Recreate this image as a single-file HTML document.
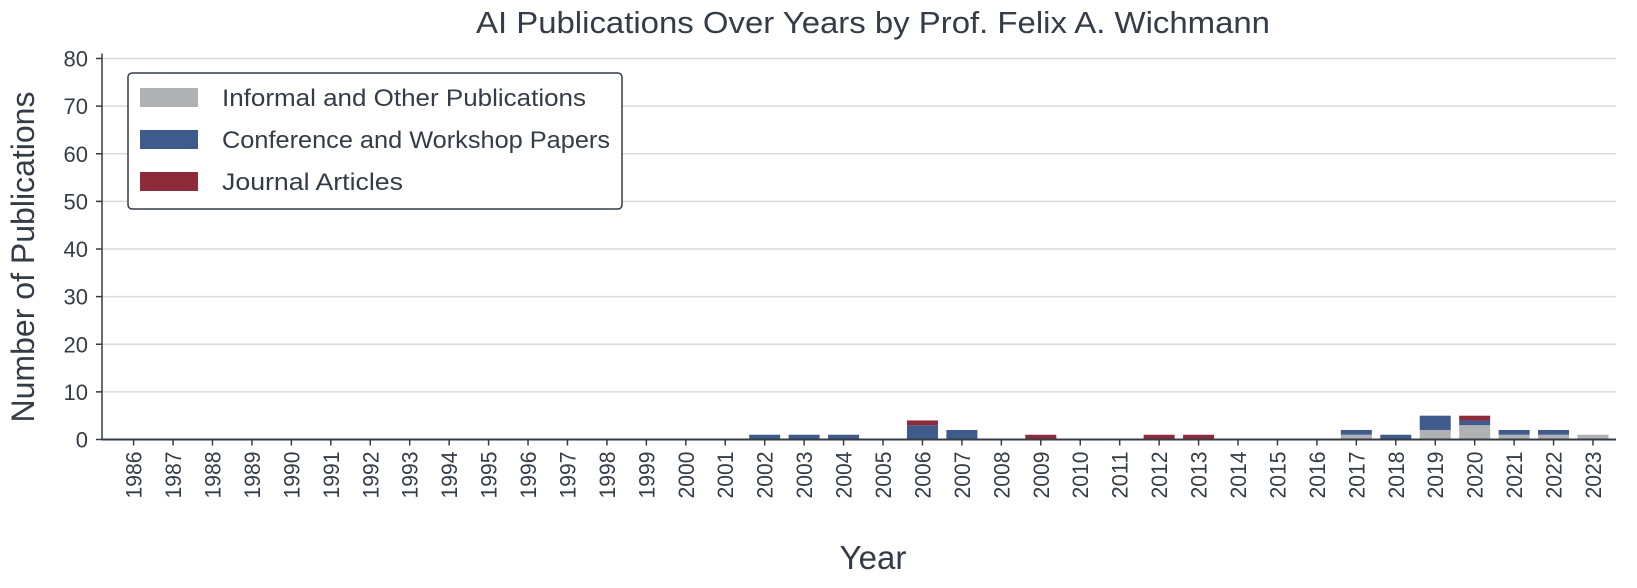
<!DOCTYPE html>
<html><head><meta charset="utf-8"><style>
body{margin:0;background:#fff;font-family:"Liberation Sans",sans-serif;}
svg text{font-family:"Liberation Sans",sans-serif;fill:#333c47;}
</style></head><body>
<svg id="c" width="1637" height="583" xmlns="http://www.w3.org/2000/svg"></svg>
<script>
const years=[];for(let y=1986;y<=2023;y++)years.push(String(y));
const informal={2017:1,2019:2,2020:3,2021:1,2022:1,2023:1};
const conference={2002:1,2003:1,2004:1,2006:3,2007:2,2017:1,2018:1,2019:3,2020:1,2021:1,2022:1};
const journal={2006:1,2009:1,2012:1,2013:1,2020:1};
const yTicks=[0,10,20,30,40,50,60,70,80];
const NS="http://www.w3.org/2000/svg";
const svg=document.getElementById('c');
const L=102,R=1616,T=58.5,B=439.5,yMax=80;
const y=v=>B-(v/yMax)*(B-T);
const step=(1593-133.6)/37;
const x=i=>133.6+i*step;
const bw=31;
function el(t,a,p){const e=document.createElementNS(NS,t);for(const k in a)e.setAttribute(k,a[k]);(p||svg).appendChild(e);return e;}
const t=el('text',{x:873,y:33,'text-anchor':'middle','font-size':31,textLength:794,lengthAdjust:'spacingAndGlyphs'});t.textContent='AI Publications Over Years by Prof. Felix A. Wichmann';

yTicks.forEach(v=>{
 if(v>0){const g=el('line',{x1:L,x2:R,y1:y(v),y2:y(v),stroke:'#d9d9d9','stroke-width':1.5});
 }
 el('line',{x1:L-6,x2:L,y1:y(v),y2:y(v),stroke:'#333c47','stroke-width':1.5});
 const tt=el('text',{x:L-14,y:y(v)+8,'text-anchor':'end','font-size':22});tt.textContent=v;
 
});
years.forEach((yr,i)=>{
 const cx=x(i);let base=0;
 [[informal,'#afb1b5'],[conference,'#3f5b8c'],[journal,'#8e2b3a']].forEach(([s,c])=>{
  const v=s[yr]||0;if(!v)return;
  const r=el('rect',{x:cx-bw/2,y:y(base+v),width:bw,height:y(base)-y(base+v),fill:c});
  base+=v;
 });
 el('line',{x1:cx,x2:cx,y1:B,y2:B+6,stroke:'#333c47','stroke-width':1.5});
 const tl=el('text',{transform:`translate(${cx+8},${B+12}) rotate(-90)`,'text-anchor':'end','font-size':22,textLength:47,lengthAdjust:'spacingAndGlyphs'});tl.textContent=yr;
 
});
el('line',{x1:L,x2:L,y1:T-5,y2:B,stroke:'#333c47','stroke-width':1.5});
el('line',{x1:L,x2:R,y1:B,y2:B,stroke:'#333c47','stroke-width':2});
const xt=el('text',{x:873,y:569,'text-anchor':'middle','font-size':33});xt.textContent='Year';

const yt=el('text',{transform:'translate(34,257) rotate(-90)','text-anchor':'middle','font-size':32,textLength:331,lengthAdjust:'spacingAndGlyphs'});yt.textContent='Number of Publications';

const lg=el('rect',{x:128,y:73,width:494,height:136,rx:4,fill:'#fff',stroke:'#333c47','stroke-width':1.5});

const lens=[364,388,181];
[['Informal and Other Publications','#afb1b5'],['Conference and Workshop Papers','#3f5b8c'],['Journal Articles','#8e2b3a']].forEach(([n,c],k)=>{
 const r=el('rect',{x:140,y:88+k*42,width:58,height:19,fill:c});
 
 const tx=el('text',{x:222,y:106+k*42,'font-size':24,textLength:lens[k],lengthAdjust:'spacingAndGlyphs'});tx.textContent=n;
 
});
</script></body></html>
